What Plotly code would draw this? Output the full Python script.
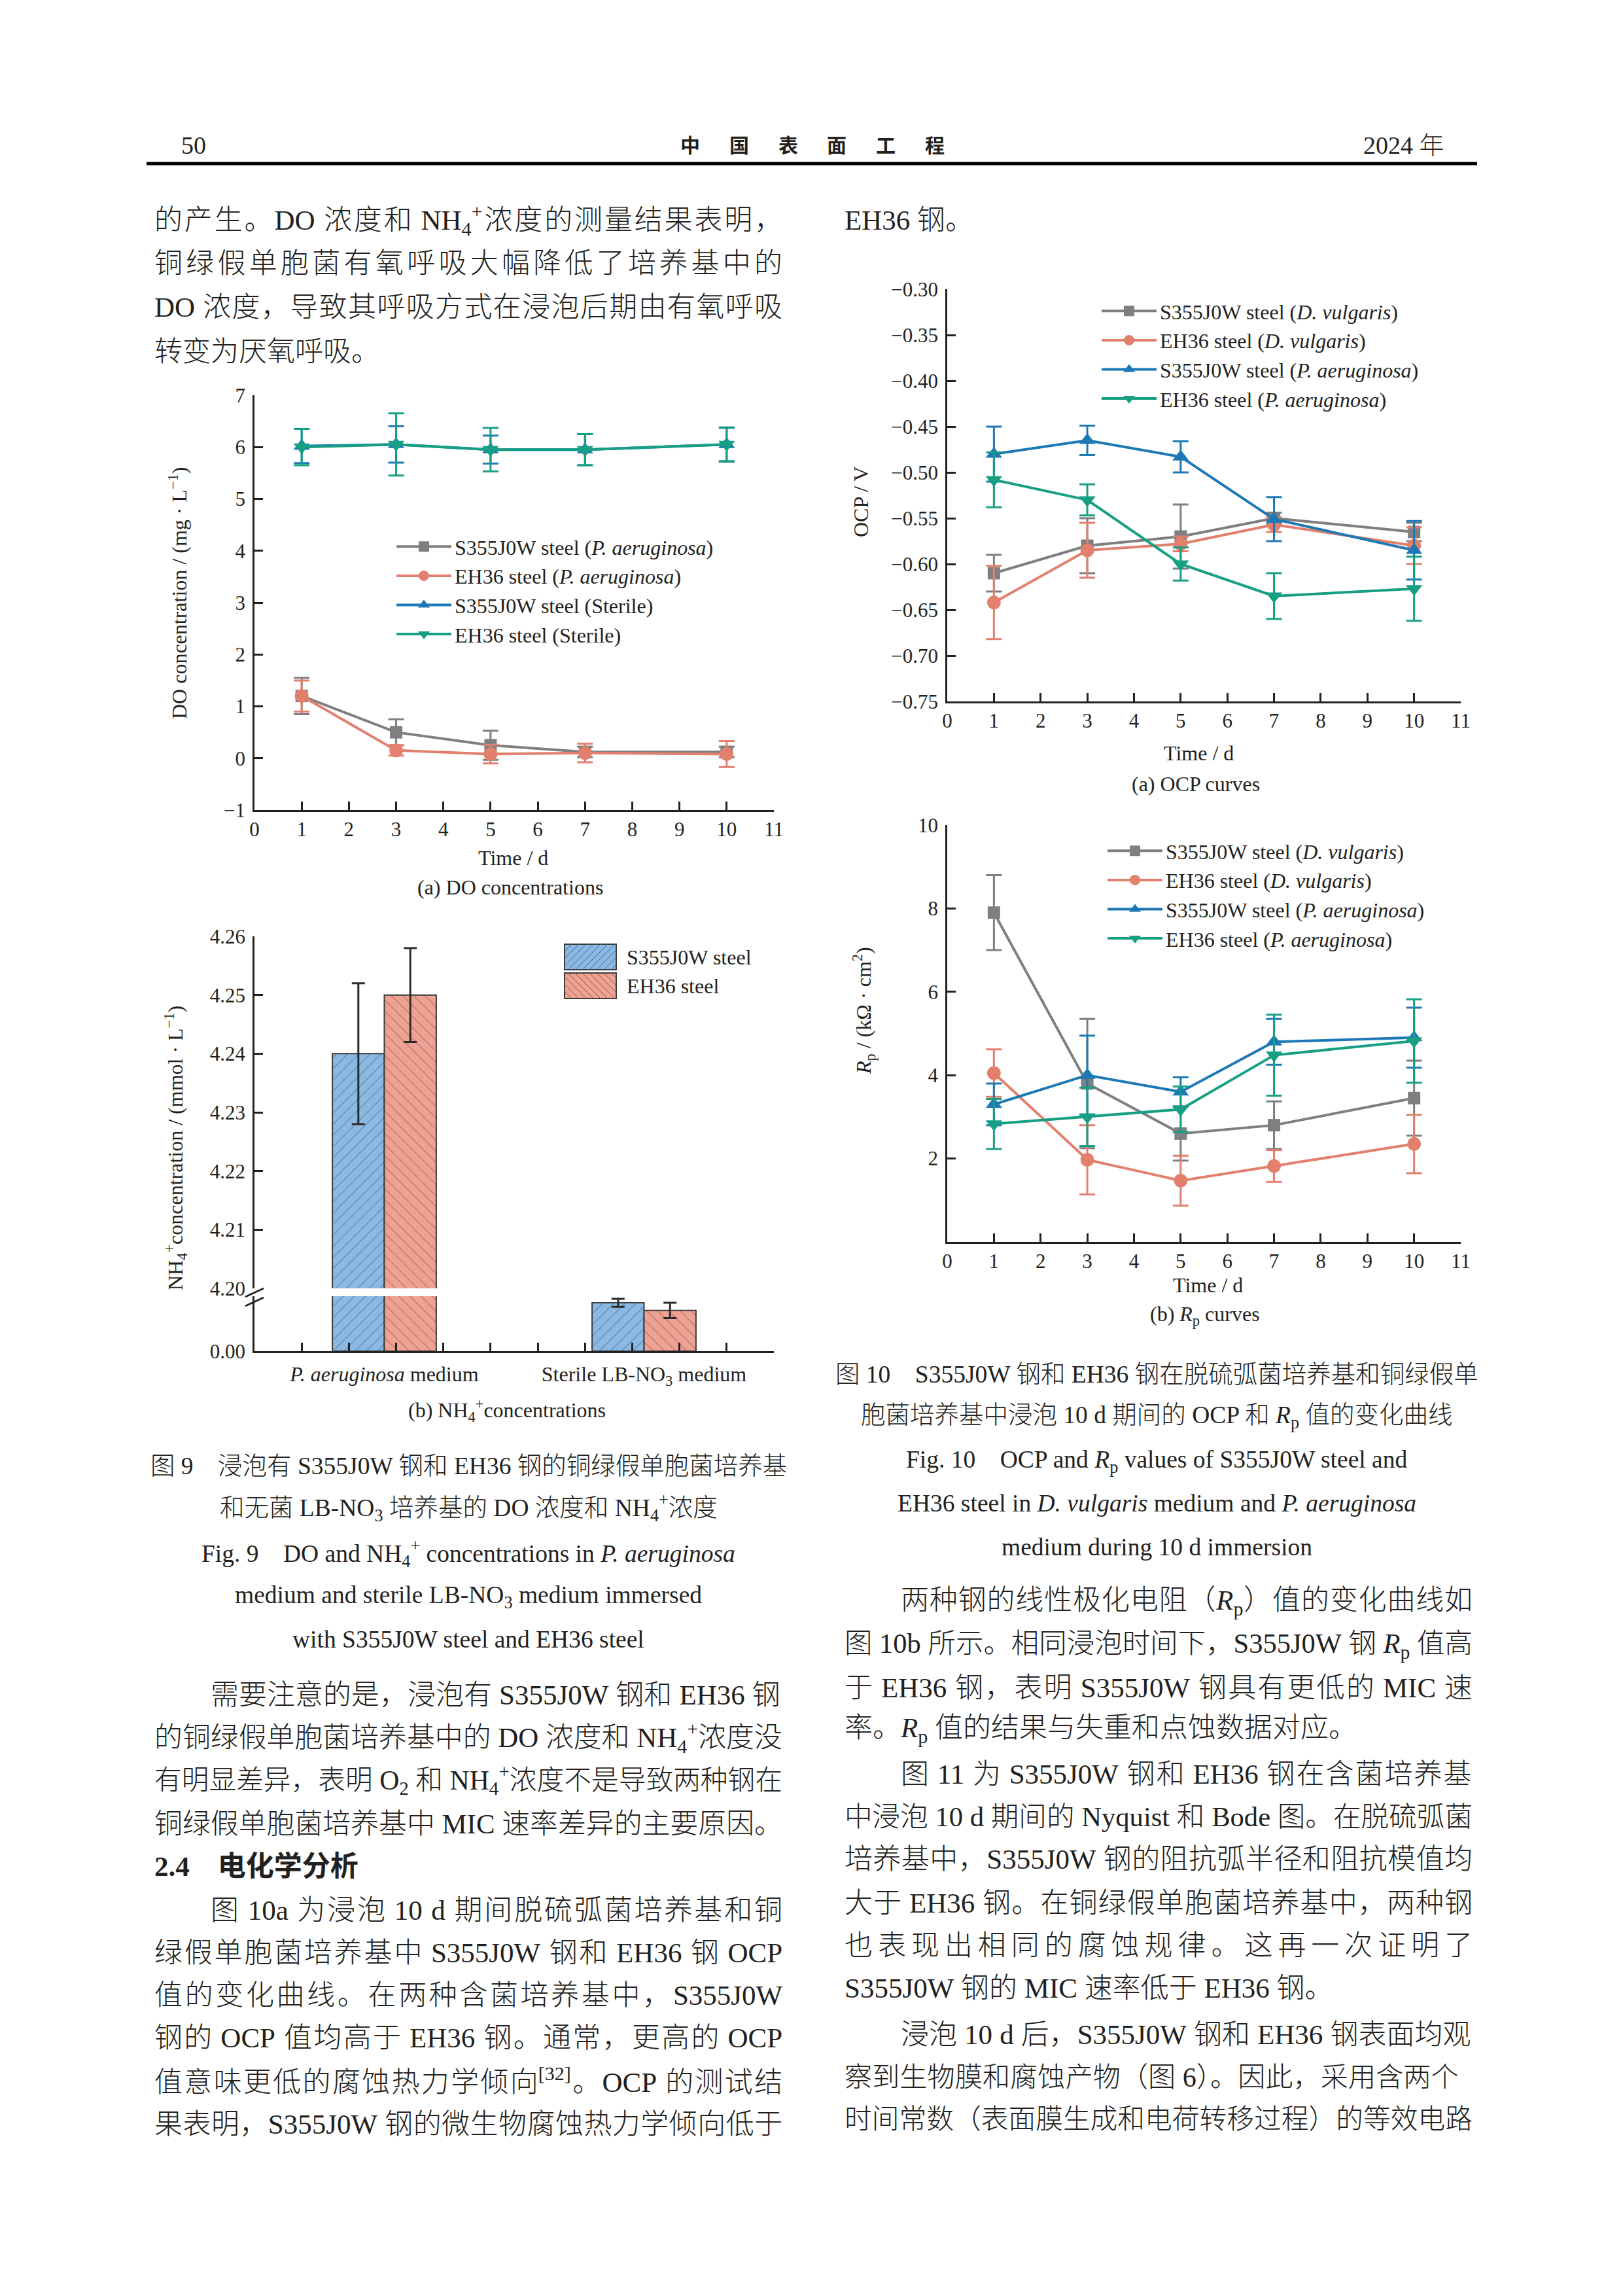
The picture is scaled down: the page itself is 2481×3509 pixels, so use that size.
import math
import re
import plotly.graph_objects as go

W, H = 2481, 3509
SERIF = "Liberation Serif, Times New Roman, serif"
BODY = "Liberation Serif, Noto Sans CJK SC, serif"
HEI = "Noto Sans CJK SC, sans-serif"
INK = "#231f20"

C_GRAY = "#7f7f7f"
C_SALMON = "#e27f6d"
C_BLUE = "#1d79b5"
C_GREEN = "#179f84"

# ---------------- data ----------------
days = [1, 3, 5, 7, 10]

# Fig 9(a) DO concentration (mg/L)
do_names = ["S355J0W steel (<i>P. aeruginosa</i>)", "EH36 steel (<i>P. aeruginosa</i>)",
            "S355J0W steel (Sterile)", "EH36 steel (Sterile)"]
do_s355_pa = [1.20, 0.50, 0.25, 0.12, 0.12]
do_s355_pa_err = [0.35, 0.25, 0.28, 0.10, 0.10]
do_eh36_pa = [1.20, 0.15, 0.08, 0.10, 0.08]
do_eh36_pa_err = [0.30, 0.10, 0.18, 0.18, 0.25]
do_s355_st = [6.02, 6.05, 5.95, 5.95, 6.05]
do_s355_st_err = [0.33, 0.35, 0.27, 0.30, 0.33]
do_eh36_st = [6.00, 6.05, 5.95, 5.95, 6.05]
do_eh36_st_err = [0.35, 0.60, 0.42, 0.30, 0.32]

# Fig 9(b) NH4+ concentration (mmol/L)
nh4_groups = ["<i>P. aeruginosa</i> medium", "Sterile LB-NO<sub>3</sub> medium"]
nh4_names = ["S355J0W steel", "EH36 steel"]
nh4_s355 = [4.240, 0.044]
nh4_s355_err = [0.012, 0.0036]
nh4_eh36 = [4.250, 0.037]
nh4_eh36_err = [0.008, 0.007]

# Fig 10(a) OCP (V)
ocp_names = ["S355J0W steel (<i>D. vulgaris</i>)", "EH36 steel (<i>D. vulgaris</i>)",
             "S355J0W steel (<i>P. aeruginosa</i>)", "EH36 steel (<i>P. aeruginosa</i>)"]
ocp_s355_dv = [-0.610, -0.580, -0.570, -0.550, -0.565]
ocp_s355_dv_err = [0.020, 0.030, 0.035, 0.006, 0.010]
ocp_eh36_dv = [-0.642, -0.585, -0.578, -0.557, -0.580]
ocp_eh36_dv_err = [0.040, 0.030, 0.008, 0.008, 0.020]
ocp_s355_pa = [-0.480, -0.465, -0.483, -0.551, -0.585]
ocp_s355_pa_err = [0.030, 0.016, 0.017, 0.024, 0.032]
ocp_eh36_pa = [-0.508, -0.530, -0.600, -0.635, -0.627]
ocp_eh36_pa_err = [0.030, 0.017, 0.018, 0.025, 0.035]

# Fig 10(b) Rp (kOhm cm2)
rp_names = ocp_names
rp_s355_dv = [7.90, 3.80, 2.60, 2.80, 3.45]
rp_s355_dv_err = [0.90, 1.55, 0.65, 0.57, 0.90]
rp_eh36_dv = [4.05, 1.97, 1.47, 1.82, 2.35]
rp_eh36_dv_err = [0.57, 0.83, 0.60, 0.38, 0.70]
rp_s355_pa = [3.30, 4.00, 3.60, 4.80, 4.90]
rp_s355_pa_err = [0.50, 0.95, 0.35, 0.55, 0.72]
rp_eh36_pa = [2.83, 3.00, 3.18, 4.48, 4.82]
rp_eh36_pa_err = [0.60, 0.70, 0.55, 0.97, 1.00]


def fx(px):
    return px / W


def fy(px):
    return 1 - px / H


fig = go.Figure()


def line_trace(y, err, name, color, symbol, size, xa, ya, legend):
    return go.Scatter(
        x=days, y=y, name=name, mode="lines+markers",
        line=dict(color=color, width=4),
        marker=dict(symbol=symbol, size=size, color=color, line=dict(width=0)),
        error_y=dict(type="data", array=err, visible=True, color=color, thickness=3, width=12),
        xaxis=xa, yaxis=ya, legend=legend,
        hoverinfo="x+y+name",
    )


for y, e, n, c, s, sz in [
    (do_s355_pa, do_s355_pa_err, do_names[0], C_GRAY, "square", 19),
    (do_eh36_pa, do_eh36_pa_err, do_names[1], C_SALMON, "circle", 21),
    (do_s355_st, do_s355_st_err, do_names[2], C_BLUE, "triangle-up", 22),
    (do_eh36_st, do_eh36_st_err, do_names[3], C_GREEN, "triangle-down", 22),
]:
    fig.add_trace(line_trace(y, e, n, c, s, sz, "x", "y", "legend"))

for y, e, n, c, s, sz in [
    (ocp_s355_dv, ocp_s355_dv_err, ocp_names[0], C_GRAY, "square", 19),
    (ocp_eh36_dv, ocp_eh36_dv_err, ocp_names[1], C_SALMON, "circle", 21),
    (ocp_s355_pa, ocp_s355_pa_err, ocp_names[2], C_BLUE, "triangle-up", 22),
    (ocp_eh36_pa, ocp_eh36_pa_err, ocp_names[3], C_GREEN, "triangle-down", 22),
]:
    fig.add_trace(line_trace(y, e, n, c, s, sz, "x5", "y4", "legend2"))

for y, e, n, c, s, sz in [
    (rp_s355_dv, rp_s355_dv_err, rp_names[0], C_GRAY, "square", 19),
    (rp_eh36_dv, rp_eh36_dv_err, rp_names[1], C_SALMON, "circle", 21),
    (rp_s355_pa, rp_s355_pa_err, rp_names[2], C_BLUE, "triangle-up", 22),
    (rp_eh36_pa, rp_eh36_pa_err, rp_names[3], C_GREEN, "triangle-down", 22),
]:
    fig.add_trace(line_trace(y, e, n, c, s, sz, "x6", "y5", "legend3"))

BAR_BLUE = "#8cb9e2"
BAR_SALMON = "#eea294"
bar_specs = [
    (nh4_s355, nh4_s355_err, nh4_names[0], BAR_BLUE, "/", "#35689a"),
    (nh4_eh36, nh4_eh36_err, nh4_names[1], BAR_SALMON, "\\", "#96503f"),
]
for xa, ya in [("x2", "y2"), ("x3", "y3")]:
    for vals, err, name, col, shp, fg in bar_specs:
        fig.add_trace(go.Bar(
            x=nh4_groups, y=vals, name=name, showlegend=False,
            marker=dict(color=col, line=dict(color="#3b3b3b", width=2),
                        pattern=dict(shape=shp, fgcolor=fg, size=12, solidity=0.12)),
            error_y=dict(type="data", array=err, visible=True, color="#2b2b2b", thickness=3, width=10),
            xaxis=xa, yaxis=ya,
        ))
fig.add_trace(go.Scatter(x=[0, 11], y=[0, 0], mode="markers", marker=dict(opacity=0),
                         showlegend=False, hoverinfo="skip", xaxis="x4", yaxis="y3"))

TICK = 31
CH = 32


def ax(**kw):
    base = dict(showline=True, linecolor=INK, linewidth=2.5, ticks="inside", ticklen=13,
                tickwidth=2.5, tickcolor=INK, showgrid=False, zeroline=False,
                tickfont=dict(family=SERIF, size=TICK, color=INK), fixedrange=True)
    base.update(kw)
    return base


L_DOM = [fx(389), fx(1183)]
R_DOM = [fx(1448), fx(2233)]

fig.update_layout(
    width=W, height=H, margin=dict(l=0, r=0, t=0, b=0, autoexpand=False),
    paper_bgcolor="white", plot_bgcolor="rgba(0,0,0,0)",
    font=dict(family=SERIF, size=CH, color=INK),
    barmode="group", bargap=0.6, bargroupgap=0,
    xaxis=ax(domain=L_DOM, anchor="y", range=[0, 11], dtick=1, tick0=0, ticklabelstandoff=0),
    yaxis=ax(domain=[fy(1238), fy(604)], anchor="x", range=[-1, 7], dtick=1, ticklabelstandoff=5),
    xaxis2=dict(domain=L_DOM, anchor="y2", type="category", range=[-0.5, 1.5], visible=False, fixedrange=True),
    yaxis2=ax(domain=[fy(1969), fy(1431)], anchor="x2", range=[4.20, 4.26],
              tickvals=[4.20, 4.21, 4.22, 4.23, 4.24, 4.25, 4.26], tickformat=".2f", ticklabelstandoff=5),
    xaxis3=ax(domain=L_DOM, anchor="y3", type="category", range=[-0.5, 1.5], ticks="",
              tickfont=dict(family=SERIF, size=CH, color=INK), ticklabelstandoff=5),
    yaxis3=ax(domain=[fy(2065), fy(1981)], anchor="x3", range=[0, 0.05], tickvals=[0],
              tickformat=".2f", ticklabelstandoff=5),
    xaxis4=ax(overlaying="x3", anchor="y3", range=[0, 11], dtick=1, tick0=0,
              showticklabels=False, showline=False),
    xaxis5=ax(domain=R_DOM, anchor="y4", range=[0, 11], dtick=1, tick0=0, ticklabelstandoff=0),
    yaxis4=ax(domain=[fy(1072), fy(442)], anchor="x5", range=[-0.75, -0.30], dtick=0.05,
              tick0=-0.75, tickformat=".2f", ticklabelstandoff=5),
    xaxis6=ax(domain=R_DOM, anchor="y5", range=[0, 11], dtick=1, tick0=0, ticklabelstandoff=0),
    yaxis5=ax(domain=[fy(1898), fy(1261)], anchor="x6", range=[0, 10], tickvals=[2, 4, 6, 8, 10],
              ticklabelstandoff=5),
)

leg_common = dict(xanchor="left", yanchor="top", bgcolor="rgba(0,0,0,0)",
                  font=dict(family=SERIF, size=CH, color=INK), itemwidth=84,
                  itemclick=False, itemdoubleclick=False)
fig.update_layout(
    legend=dict(x=fx(601), y=fy(808), **leg_common),
    legend2=dict(x=fx(1679), y=fy(448), **leg_common),
    legend3=dict(x=fx(1688), y=fy(1273), **leg_common),
)

ann = []
shapes = []


def txt(x, y, s, size=43, xanchor="left", family=BODY, angle=0, color=INK, weight=None):
    font = dict(family=family, size=size, color=color)
    if weight is not None:
        font["weight"] = weight
    ann.append(dict(x=fx(x), y=fy(y), xref="paper", yref="paper", text=s, showarrow=False,
                    xanchor=xanchor, yanchor="middle", textangle=angle, font=font))


# ---- simple text justification (Times metrics for Latin, 1 em for CJK) ----
TW = {' ': 250, '\u00a0': 250, '(': 333, ')': 333, '+': 564, ',': 250, '-': 333, '.': 250,
      '/': 278, '[': 333, ']': 333, ':': 278,
      'A': 722, 'B': 667, 'C': 667, 'D': 722, 'E': 611, 'F': 556, 'G': 722, 'H': 722, 'I': 333,
      'J': 389, 'K': 722, 'L': 611, 'M': 889, 'N': 722, 'O': 722, 'P': 556, 'Q': 722, 'R': 667,
      'S': 556, 'T': 611, 'U': 722, 'V': 722, 'W': 944, 'X': 722, 'Y': 722, 'Z': 611,
      'a': 444, 'b': 500, 'c': 444, 'd': 500, 'e': 444, 'f': 333, 'g': 500, 'h': 500, 'i': 278,
      'j': 278, 'k': 500, 'l': 278, 'm': 778, 'n': 500, 'o': 500, 'p': 500, 'q': 500, 'r': 333,
      's': 389, 't': 278, 'u': 500, 'v': 500, 'w': 722, 'x': 500, 'y': 500, 'z': 444}
TWI = {'R': 611, 'P': 611, 'D': 722}
TAG = re.compile(r"(<[^>]+>)")


def is_cjk(c):
    return ord(c) >= 0x2E80


def tok_width(tok, F):
    w, scale, ital = 0.0, 1.0, False
    for p in TAG.split(tok):
        if p.startswith("<"):
            t = p.lower()
            if t in ("<sub>", "<sup>"):
                scale = 0.7
            elif t in ("</sub>", "</sup>"):
                scale = 1.0
            elif t == "<i>":
                ital = True
            elif t == "</i>":
                ital = False
            continue
        for c in p:
            if is_cjk(c):
                w += F * scale
            else:
                tab = TWI if (ital and c in TWI) else TW
                w += tab.get(c, 500) / 1000.0 * F * scale
    return w


def tokenize(s):
    toks = []
    cur = ""
    sb = False
    for p in TAG.split(s):
        if p.startswith("<"):
            cur += p
            continue
        for c in p:
            if c == " ":
                if cur:
                    toks.append([cur, sb])
                    cur = ""
                sb = True
            elif is_cjk(c):
                if cur:
                    toks.append([cur, sb])
                    cur = ""
                    sb = False
                toks.append([c, sb])
                sb = False
            else:
                cur += c
    if cur:
        toks.append([cur, sb])
    merged = []
    for t in toks:
        if merged and t[0].startswith("<sup>") and not t[1]:
            merged[-1][0] += t[0]
        else:
            merged.append(t)
    return merged


def gap_html(g, fs):
    if g < 0.4:
        return ""
    n = max(1, math.ceil(4 * g / (0.95 * fs)))
    size = 4 * g / n
    return ("<span style=\"font-size:%.2fpx\">\u00a0</span>" % size) * n


def para_line(x0, y, s, colw, F=43, justify=True):
    toks = tokenize(s)
    widths = [tok_width(t, F) for t, _ in toks]
    gaps = [0.25 * F if sb else 0.0 for _, sb in toks[1:]]
    natural = sum(widths) + sum(gaps)
    fs = F
    if natural > colw:
        k = colw / natural
        fs = F * k
        gaps = [g * k for g in gaps]
        natural = colw
    add = (colw - natural) / len(gaps) if (justify and gaps) else 0.0
    out = toks[0][0]
    for i in range(1, len(toks)):
        out += gap_html(gaps[i - 1] + add, fs) + toks[i][0]
    txt(x0, y, out, size=round(fs, 2), weight=300)


# header
txt(275, 222, "50", size=38, family=SERIF)
txt(2210, 222, "2024 年", size=38, xanchor="right", family=BODY, weight=300)
for i, ch in enumerate("中国表面工程"):
    txt(1055 + i * 74.8, 220, "<b>" + ch + "</b>", size=30, xanchor="center", family=HEI)
shapes.append(dict(type="line", xref="paper", yref="paper", x0=fx(224), x1=fx(2258),
                   y0=fy(250), y1=fy(250), line=dict(color="black", width=5)))

COLW = 960
F = 43
IND = 2 * F
LX = 234
RX = 1289

# left column, top
para_line(LX, 337, "的产生。DO 浓度和 NH<sub>4</sub><sup>+</sup>浓度的测量结果表明，", COLW)
para_line(LX, 403, "铜绿假单胞菌有氧呼吸大幅降低了培养基中的", COLW)
para_line(LX, 470, "DO 浓度，导致其呼吸方式在浸泡后期由有氧呼吸", COLW)
para_line(LX, 537, "转变为厌氧呼吸。", COLW, justify=False)

# right column, top
para_line(RX, 337, "EH36 钢。", COLW, justify=False)

# chart axis titles & sub-captions
txt(272, 907, "DO concentration / (mg · L<sup>−1</sup>)", size=CH, xanchor="center", family=SERIF, angle=-90)
txt(785, 1311, "Time / d", size=CH, xanchor="center", family=SERIF)
txt(780, 1356, "(a) DO concentrations", size=CH, xanchor="center", family=SERIF)

txt(268, 1755, "NH<sub>4</sub><sup>+</sup>concentration / (mmol · L<sup>−1</sup>)", size=CH,
    xanchor="center", family=SERIF, angle=-90)
txt(775, 2155, "(b) NH<sub>4</sub><sup>+</sup>concentrations", size=CH, xanchor="center", family=SERIF)

txt(1316, 767, "OCP / V", size=CH, xanchor="center", family=SERIF, angle=-90)
txt(1832, 1151, "Time / d", size=CH, xanchor="center", family=SERIF)
txt(1828, 1198, "(a) OCP curves", size=CH, xanchor="center", family=SERIF)

txt(1320, 1545, "<i>R</i><sub>p</sub> / (kΩ · cm<sup>2</sup>)", size=CH, xanchor="center", family=SERIF, angle=-90)
txt(1846, 1964, "Time / d", size=CH, xanchor="center", family=SERIF)
txt(1842, 2010, "(b) <i>R</i><sub>p</sub> curves", size=CH, xanchor="center", family=SERIF)

# NH4 legend (large swatches)
for (vals, err, name, col, shp, fg), (y0, y1) in zip(bar_specs, [(1443, 1482), (1487, 1526)]):
    x0, x1 = 863, 942
    shapes.append(dict(type="rect", xref="paper", yref="paper", x0=fx(x0), x1=fx(x1),
                       y0=fy(y1), y1=fy(y0), fillcolor=col, line=dict(color="#3b3b3b", width=2)))
    h = y1 - y0
    s = x0 - h
    while s < x1:
        t0, t1 = max(0, x0 - s), min(h, x1 - s)
        if t1 > t0:
            if shp == "/":
                pa, pb = (s + t0, y1 - t0), (s + t1, y1 - t1)
            else:
                pa, pb = (s + t0, y0 + t0), (s + t1, y0 + t1)
            shapes.append(dict(type="line", xref="paper", yref="paper",
                               x0=fx(pa[0]), y0=fy(pa[1]), x1=fx(pb[0]), y1=fy(pb[1]),
                               line=dict(color=fg, width=1)))
        s += 11
    txt(956, (y0 + y1) / 2, name, size=CH, family=SERIF)

# axis break marks
for yy in (1982, 1996):
    shapes.append(dict(type="line", xref="paper", yref="paper", x0=fx(375), x1=fx(403),
                       y0=fy(yy), y1=fy(yy - 13), line=dict(color=INK, width=2.5)))

# Fig 9 caption
CS = 37.5
C9 = 716
txt(C9, 2240, "图 9　浸泡有 S355J0W 钢和 EH36 钢的铜绿假单胞菌培养基", size=CS, xanchor="center", weight=300)
txt(C9, 2304, "和无菌 LB-NO<sub>3</sub> 培养基的 DO 浓度和 NH<sub>4</sub><sup>+</sup>浓度", size=CS, xanchor="center", weight=300)
txt(C9, 2374, "Fig. 9　DO and NH<sub>4</sub><sup>+</sup> concentrations in <i>P. aeruginosa</i>", size=CS, xanchor="center", weight=300)
txt(C9, 2440, "medium and sterile LB-NO<sub>3</sub> medium immersed", size=CS, xanchor="center", weight=300)
txt(C9, 2505, "with S355J0W steel and EH36 steel", size=CS, xanchor="center", weight=300)

# left column, bottom
left_lines = [
    (2590, True, True, "需要注意的是，浸泡有 S355J0W 钢和 EH36 钢"),
    (2655, False, True, "的铜绿假单胞菌培养基中的 DO 浓度和 NH<sub>4</sub><sup>+</sup>浓度没"),
    (2720, False, True, "有明显差异，表明 O<sub>2</sub> 和 NH<sub>4</sub><sup>+</sup>浓度不是导致两种钢在"),
    (2787, False, False, "铜绿假单胞菌培养基中 MIC 速率差异的主要原因。"),
    (2919, True, True, "图 10a 为浸泡 10 d 期间脱硫弧菌培养基和铜"),
    (2984, False, True, "绿假单胞菌培养基中 S355J0W 钢和 EH36 钢 OCP"),
    (3049, False, True, "值的变化曲线。在两种含菌培养基中，S355J0W"),
    (3114, False, True, "钢的 OCP 值均高于 EH36 钢。通常，更高的 OCP"),
    (3179, False, True, "值意味更低的腐蚀热力学倾向<sup>[32]</sup>。OCP 的测试结"),
    (3246, False, True, "果表明，S355J0W 钢的微生物腐蚀热力学倾向低于"),
]
for y, ind, just, s in left_lines:
    para_line(LX + (IND if ind else 0), y, s, COLW - (IND if ind else 0), justify=just)
txt(LX, 2852, "<b>2.4　电化学分析</b>", size=43)

# Fig 10 caption
C10 = 1768
txt(C10, 2100, "图 10　S355J0W 钢和 EH36 钢在脱硫弧菌培养基和铜绿假单", size=CS, xanchor="center", weight=300)
txt(C10, 2165, "胞菌培养基中浸泡 10 d 期间的 OCP 和 <i>R</i><sub>p</sub> 值的变化曲线", size=CS, xanchor="center", weight=300)
txt(C10, 2233, "Fig. 10　OCP and <i>R</i><sub>p</sub> values of S355J0W steel and", size=CS, xanchor="center", weight=300)
txt(C10, 2297, "EH36 steel in <i>D. vulgaris</i> medium and <i>P. aeruginosa</i>", size=CS, xanchor="center", weight=300)
txt(C10, 2364, "medium during 10 d immersion", size=CS, xanchor="center", weight=300)

right_lines = [
    (2449, True, True, "两种钢的线性极化电阻（<i>R</i><sub>p</sub>）值的变化曲线如"),
    (2514, False, True, "图 10b 所示。相同浸泡时间下，S355J0W 钢 <i>R</i><sub>p</sub> 值高"),
    (2579, False, True, "于 EH36 钢，表明 S355J0W 钢具有更低的 MIC 速"),
    (2644, False, False, "率。<i>R</i><sub>p</sub> 值的结果与失重和点蚀数据对应。"),
    (2711, True, True, "图 11 为 S355J0W 钢和 EH36 钢在含菌培养基"),
    (2776, False, True, "中浸泡 10 d 期间的 Nyquist 和 Bode 图。在脱硫弧菌"),
    (2841, False, True, "培养基中，S355J0W 钢的阻抗弧半径和阻抗模值均"),
    (2908, False, True, "大于 EH36 钢。在铜绿假单胞菌培养基中，两种钢"),
    (2973, False, True, "也表现出相同的腐蚀规律。这再一次证明了"),
    (3038, False, False, "S355J0W 钢的 MIC 速率低于 EH36 钢。"),
    (3109, True, True, "浸泡 10 d 后，S355J0W 钢和 EH36 钢表面均观"),
    (3174, False, True, "察到生物膜和腐蚀产物（图 6）。因此，采用含两个"),
    (3239, False, True, "时间常数（表面膜生成和电荷转移过程）的等效电路"),
]
for y, ind, just, s in right_lines:
    para_line(RX + (IND if ind else 0), y, s, COLW - (IND if ind else 0), justify=just)

fig.update_layout(annotations=ann, shapes=shapes)
fig.write_html(
    "out.html",
    config={"displayModeBar": False},
    post_script="document.documentElement.style.margin='0';document.body.style.margin='0';"
                "document.body.style.padding='0';document.documentElement.style.overflow='hidden';",
)
